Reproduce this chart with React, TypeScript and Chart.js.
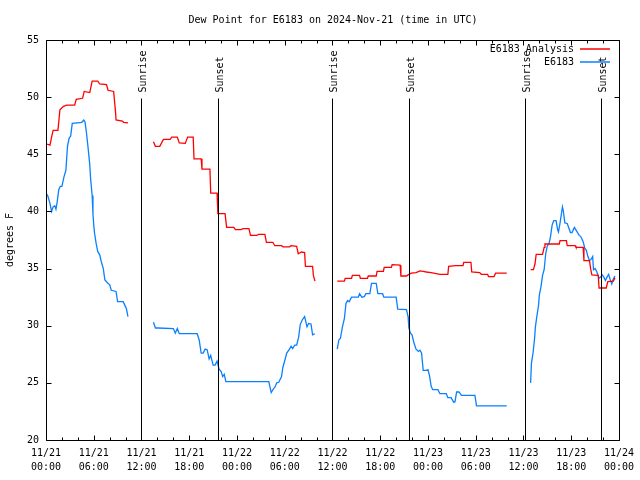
import React, { useEffect, useRef } from 'react';
import { Chart, registerables } from 'chart.js';

Chart.register(...registerables);

const FONT = '"DejaVu Sans Mono", "Liberation Mono", monospace';

const chartTitle = 'Dew Point for E6183 on 2024-Nov-21 (time in UTC)';
const yAxisTitle = 'degrees F';
const analysisLabel = 'E6183 Analysis';
const obsLabel = 'E6183';

// hours since 2024-11-21 00:00 UTC; null values break the line
const analysisHours = [
  0.08, 0.5, 0.7, 0.9, 1.5, 1.75, 2.2, 2.6, 3.6, 3.8, 4.6, 4.8, 5.5, 5.8, 6.5, 6.75, 7.6, 7.8, 8.5, 8.75, 8.8, 9.6, 9.75, 10.3,
  12,
  13.5, 13.75, 14.3, 14.75, 15.6, 15.8, 16.5, 16.75, 17.5, 17.8, 18.5, 18.6, 19.5, 19.6, 20.6, 20.7, 21.5, 21.6, 22.5, 22.7, 23.6, 23.8, 24.5, 24.75, 25.5, 25.7, 26.5, 26.7, 27.5, 27.7, 28.5, 28.75, 29.6, 29.8, 30.6, 30.8, 31.5, 31.7, 32.1, 32.5, 32.6, 33.5, 33.6, 33.8,
  35,
  36.6, 37.5, 37.6, 38.4, 38.5, 39.4, 39.5, 40.4, 40.5, 41.5, 41.6, 42.4, 42.5, 43.4, 43.5, 44.5, 44.6, 45.3, 45.5, 45.9, 46.5, 47.0, 47.4, 47.8, 48.4, 49.5, 50.5, 50.6, 51.5, 52.4, 52.5, 53.4, 53.5, 54.5, 54.7, 55.5, 55.6, 56.3, 56.5, 57.9,
  59,
  60.9, 61.25, 61.45, 61.6, 62.4, 62.6, 62.7, 64.5, 64.6, 65.4, 65.5, 66.5, 66.6, 67.5, 67.6, 68.3, 68.45, 68.6, 69.4, 69.5, 70.4, 70.6, 71.3, 71.5,
];
const analysisDewF = [
  45.9, 45.8, 46.5, 47.1, 47.1, 48.9, 49.2, 49.3, 49.3, 49.8, 49.9, 50.5, 50.4, 51.4, 51.4, 51.15, 51.1, 50.6, 50.5, 48.6, 48.0, 47.9, 47.8, 47.75,
  null,
  46.1, 45.7, 45.7, 46.3, 46.3, 46.5, 46.5, 46.0, 45.95, 46.5, 46.5, 44.6, 44.6, 43.7, 43.7, 41.6, 41.6, 39.8, 39.8, 38.6, 38.6, 38.4, 38.4, 38.5, 38.5, 37.9, 37.9, 38.0, 38.0, 37.3, 37.3, 37.0, 37.0, 36.9, 36.9, 37.0, 36.95, 36.3, 36.45, 36.4, 35.2, 35.2, 34.4, 33.9,
  null,
  33.9, 33.9, 34.15, 34.15, 34.4, 34.4, 34.15, 34.15, 34.35, 34.35, 34.75, 34.75, 35.1, 35.1, 35.35, 35.3, 34.35, 34.35, 34.45, 34.6, 34.65, 34.8, 34.75, 34.7, 34.65, 34.5, 34.5, 35.2, 35.25, 35.25, 35.55, 35.55, 34.7, 34.65, 34.5, 34.5, 34.3, 34.3, 34.6, 34.6,
  null,
  34.9, 34.9, 35.4, 36.25, 36.25, 36.85, 37.15, 37.15, 37.45, 37.45, 37.0, 37.0, 36.85, 36.85, 35.7, 35.7, 34.95, 34.45, 34.4, 33.3, 33.3, 33.85, 33.9, 34.2,
];

const obsHours = [
  0.08, 0.2, 0.5, 0.7, 0.9, 1.1, 1.25, 1.4, 1.6, 1.8, 2.0, 2.25, 2.5, 2.7, 2.9, 3.1, 3.3, 4.5, 4.75, 4.9, 5.1, 5.3, 5.5, 5.6, 5.8, 5.9, 6.0, 6.1, 6.3, 6.5, 6.75, 6.95, 7.2, 7.4, 7.8, 8.0, 8.2, 8.8, 9.0, 9.7, 9.9, 10.1, 10.3,
  12,
  13.5, 13.75, 14.1, 16.0, 16.25, 16.5, 16.75, 19.0, 19.25, 19.5, 19.75, 20.0, 20.25, 20.5, 20.7, 21.0, 21.25, 21.5, 21.75, 22.0, 22.2, 22.4, 22.6, 28.0, 28.3, 28.6, 28.75, 29.0, 29.25, 29.6, 29.75, 30.1, 30.25, 30.6, 30.8, 31.0, 31.25, 31.5, 31.75, 31.95, 32.2, 32.5, 32.8, 33.0, 33.3, 33.5, 33.8,
  35,
  36.6, 36.8, 37.0, 37.25, 37.5, 37.7, 37.9, 38.1, 38.4, 39.25, 39.4, 39.7, 40.0, 40.2, 40.7, 40.9, 41.5, 41.7, 42.3, 42.45, 44.0, 44.2, 45.3, 45.5, 45.6, 45.8, 46.0, 46.2, 46.5, 46.8, 47.0, 47.2, 47.4, 47.8, 48.0, 48.2, 48.4, 48.6, 49.25, 49.5, 50.3, 50.5, 50.9, 51.25, 51.4, 51.6, 51.9, 52.2, 53.9, 54.1, 57.9,
  59,
  60.9, 61.0, 61.2, 61.4, 61.5, 61.7, 61.9, 62.0, 62.2, 62.4, 62.6, 62.8, 63.0, 63.2, 63.4, 63.6, 63.8, 64.1, 64.3, 64.4, 64.6, 64.9, 65.0, 65.2, 65.5, 65.9, 66.1, 66.4, 66.8, 67.0, 67.2, 67.5, 67.7, 67.9, 68.1, 68.3, 68.5, 68.7, 68.8, 69.0, 69.2, 69.5, 69.7, 69.9, 70.1, 70.3, 70.5, 70.7, 70.9, 71.1, 71.3, 71.5,
];
const obsDewF = [
  41.5, 41.4, 40.7, 40.0, 40.4, 40.5, 40.2, 40.8, 41.9, 42.2, 42.2, 43.0, 43.6, 45.7, 46.4, 46.6, 47.7, 47.8, 48.0, 47.85, 46.8, 45.5, 44.1, 42.9, 41.4, 39.8, 38.8, 38.1, 37.2, 36.5, 36.2, 35.6, 35.0, 34.0, 33.7, 33.6, 33.1, 33.0, 32.1, 32.1, 31.8, 31.5, 30.8,
  null,
  30.3, 29.8, 29.8, 29.75, 29.35, 29.75, 29.3, 29.3, 28.75, 27.6, 27.6, 27.95, 27.9, 27.1, 27.4, 26.55, 26.55, 26.9, 26.2, 26.0, 25.55, 25.75, 25.1, 25.1, 24.15, 24.5, 24.6, 25.0, 25.05, 25.55, 26.3, 27.2, 27.6, 27.95, 28.2, 28.0, 28.3, 28.3, 29.0, 30.1, 30.5, 30.8, 29.9, 30.2, 30.15, 29.2, 29.3,
  null,
  27.95, 28.75, 28.9, 29.9, 30.65, 31.95, 32.2, 32.1, 32.5, 32.5, 32.8, 32.5, 32.55, 32.8, 32.8, 33.7, 33.7, 32.8, 32.8, 32.5, 32.5, 31.45, 31.4, 30.8, 29.8, 29.35, 29.2, 28.6, 27.95, 27.75, 27.85, 27.6, 26.1, 26.1, 26.15, 25.6, 24.7, 24.4, 24.4, 24.05, 24.05, 23.7, 23.7, 23.3, 23.35, 24.2, 24.2, 23.9, 23.9, 22.98, 22.98,
  null,
  25.0, 26.7, 27.6, 28.9, 29.9, 30.9, 31.8, 32.7, 33.4, 34.4, 34.9, 36.3, 37.0, 37.15, 37.8, 38.8, 39.2, 39.2, 38.4, 38.2, 39.0, 40.4, 40.1, 39.0, 38.95, 38.15, 38.15, 38.6, 38.15, 37.9, 37.8, 37.35, 36.8, 36.6, 36.05, 35.7, 35.8, 36.05, 34.9, 35.0, 34.75, 34.15, 34.25, 34.45, 34.25, 33.95, 34.25, 34.5, 34.05, 33.65, 34.1, 34.35,
];

const sunriseHours = [11.95, 36.0, 60.2];
const sunsetHours = [21.6, 45.6, 69.7];

const xTickDates = ['11/21', '11/21', '11/21', '11/21', '11/22', '11/22', '11/22', '11/22', '11/23', '11/23', '11/23', '11/23', '11/24'];
const xTickTimes = ['00:00', '06:00', '12:00', '18:00', '00:00', '06:00', '12:00', '18:00', '00:00', '06:00', '12:00', '18:00', '00:00'];

const X_MIN = 0;
const X_MAX = 72;
const X_STEP = 6;
const X_MINOR_STEP = 2;
const Y_MIN = 20;
const Y_MAX = 55;
const Y_STEP = 5;

const RED = '#ff0000';
const BLUE = '#0a80ff';

function toPoints(xs: number[], ys: (number | null)[]) {
  return xs.map((x, i) => ({ x, y: ys[i] }));
}

const overlayPlugin = {
  id: 'gnuplotOverlay',
  beforeDraw(chart: any) {
    const ctx = chart.ctx;
    ctx.save();
    ctx.fillStyle = '#ffffff';
    ctx.fillRect(0, 0, chart.width, chart.height);
    ctx.restore();
  },
  afterDraw(chart: any) {
    const ctx = chart.ctx;
    const xs = chart.scales.x;
    const ys = chart.scales.y;
    const { left, right, top, bottom } = chart.chartArea;
    ctx.save();
    ctx.strokeStyle = '#000000';
    ctx.lineWidth = 1;
    const L = Math.round(left) + 0.5;
    const R = Math.round(right) + 0.5;
    const T = Math.round(top) + 0.5;
    const B = Math.round(bottom) + 0.5;
    ctx.beginPath();
    ctx.rect(L, T, R - L, B - T);
    ctx.stroke();
    ctx.beginPath();
    for (let v = X_MIN; v <= X_MAX; v += X_MINOR_STEP) {
      const px = Math.round(xs.getPixelForValue(v)) + 0.5;
      const len = v % X_STEP === 0 ? 5 : 3;
      ctx.moveTo(px, B);
      ctx.lineTo(px, B - len);
      ctx.moveTo(px, T);
      ctx.lineTo(px, T + len);
    }
    for (let v = Y_MIN; v <= Y_MAX; v += Y_STEP) {
      const py = Math.round(ys.getPixelForValue(v)) + 0.5;
      ctx.moveTo(L, py);
      ctx.lineTo(L + 5, py);
      ctx.moveTo(R, py);
      ctx.lineTo(R - 5, py);
    }
    ctx.stroke();

    ctx.font = '10px ' + FONT;
    ctx.fillStyle = '#000000';
    const drawMarker = (h: number, label: string) => {
      const px = Math.round(xs.getPixelForValue(h)) + 0.5;
      ctx.strokeStyle = '#000000';
      ctx.lineWidth = 1;
      ctx.beginPath();
      ctx.moveTo(px, T + 58);
      ctx.lineTo(px, B);
      ctx.stroke();
      ctx.save();
      ctx.translate(px + 1.5, T + 52);
      ctx.rotate(-Math.PI / 2);
      ctx.textAlign = 'left';
      ctx.textBaseline = 'middle';
      ctx.fillText(label, 0, 0);
      ctx.restore();
    };
    sunriseHours.forEach((h) => drawMarker(h, 'Sunrise'));
    sunsetHours.forEach((h) => drawMarker(h, 'Sunset'));

    ctx.textAlign = 'center';
    ctx.textBaseline = 'middle';
    ctx.fillText(chartTitle, (L + R) / 2, 20);

    const items = [
      { label: analysisLabel, color: RED, y: 49 },
      { label: obsLabel, color: BLUE, y: 62 },
    ];
    items.forEach((it) => {
      ctx.textAlign = 'right';
      ctx.textBaseline = 'middle';
      ctx.fillStyle = '#000000';
      ctx.fillText(it.label, 574, it.y);
      ctx.lineWidth = 1.5;
      ctx.strokeStyle = it.color;
      ctx.beginPath();
      ctx.moveTo(580, it.y);
      ctx.lineTo(610, it.y);
      ctx.stroke();
    });
    ctx.restore();
  },
};

export default function App() {
  const canvasRef = useRef<HTMLCanvasElement | null>(null);

  useEffect(() => {
    if (!canvasRef.current) return;
    const chart = new Chart(canvasRef.current, {
      type: 'line',
      data: {
        datasets: [
          {
            label: analysisLabel,
            data: toPoints(analysisHours, analysisDewF) as any,
            borderColor: RED,
            backgroundColor: RED,
            borderWidth: 1.3,
            pointRadius: 0,
            tension: 0,
            spanGaps: false,
          },
          {
            label: obsLabel,
            data: toPoints(obsHours, obsDewF) as any,
            borderColor: BLUE,
            backgroundColor: BLUE,
            borderWidth: 1.3,
            pointRadius: 0,
            tension: 0,
            spanGaps: false,
          },
        ],
      },
      options: {
        animation: false,
        responsive: false,
        maintainAspectRatio: false,
        devicePixelRatio: 1,
        layout: { padding: { left: 0, right: 19, top: 40, bottom: 0 } },
        plugins: {
          legend: { display: false },
          title: { display: false },
          tooltip: { enabled: false },
        },
        scales: {
          x: {
            type: 'linear',
            min: X_MIN,
            max: X_MAX,
            grid: { display: false, drawTicks: false },
            border: { display: false },
            afterFit: (s: any) => {
              s.height = 40;
            },
            ticks: {
              stepSize: X_STEP,
              autoSkip: false,
              maxRotation: 0,
              minRotation: 0,
              padding: 6,
              color: '#000',
              font: { family: FONT, size: 10, lineHeight: 1.4 },
              callback: (v: any) => {
                const i = Math.round(Number(v) / X_STEP);
                return [xTickDates[i], xTickTimes[i]];
              },
            },
          },
          y: {
            type: 'linear',
            min: Y_MIN,
            max: Y_MAX,
            grid: { display: false, drawTicks: false },
            border: { display: false },
            afterFit: (s: any) => {
              s.width = 46;
            },
            title: {
              display: true,
              text: yAxisTitle,
              color: '#000',
              font: { family: FONT, size: 10 },
              padding: { top: 4, bottom: 0 },
            },
            ticks: {
              stepSize: Y_STEP,
              padding: 7,
              color: '#000',
              font: { family: FONT, size: 10 },
            },
          },
        },
      },
      plugins: [overlayPlugin],
    });
    return () => chart.destroy();
  }, []);

  return (
    <div style={{ position: 'fixed', left: 0, top: 0, width: 640, height: 480, background: '#fff' }}>
      <canvas ref={canvasRef} width={640} height={480} style={{ width: 640, height: 480, display: 'block' }} />
    </div>
  );
}
